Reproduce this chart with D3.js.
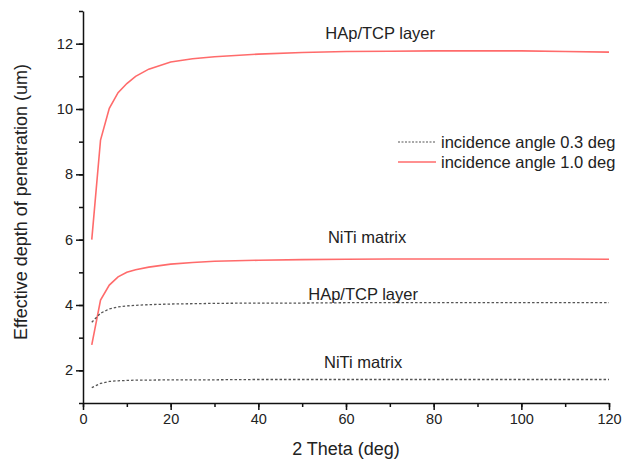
<!DOCTYPE html>
<html>
<head>
    <meta charset="utf-8">
    <title>Effective depth of penetration</title>
    <script src="https://d3js.org/d3.v7.min.js"></script>
    <style>
        body {
            margin: 0;
            background: #fff;
            font-family: Arial, "Liberation Sans", sans-serif;
            overflow: hidden;
        }
        .domain, .tick line {
            stroke: #111;
            stroke-width: 1.5px;
        }
        .tick text {
            font-size: 14.5px;
            fill: #222;
        }
        .label {
            font-size: 16.5px;
            fill: #222;
        }
        .title {
            font-size: 18px;
            fill: #222;
        }
    </style>
</head>
<body>
    <svg width="623" height="461"></svg>

    <script>
    // data
    const twoTheta = [2, 4, 6, 8, 10, 12, 15, 20, 25, 30, 40, 50, 60, 70, 80, 90, 100, 110, 120];
    const hapDeg10 = [6.0, 9.05, 10.02, 10.5, 10.78, 11.0, 11.22, 11.44, 11.54, 11.6, 11.68, 11.73, 11.76, 11.77, 11.78, 11.78, 11.78, 11.76, 11.74];
    const nitiDeg10 = [2.78, 4.15, 4.61, 4.86, 5.0, 5.08, 5.16, 5.25, 5.3, 5.34, 5.37, 5.39, 5.4, 5.41, 5.41, 5.41, 5.41, 5.41, 5.4];
    const hapDeg03 = [3.47, 3.75, 3.88, 3.94, 3.97, 3.99, 4.01, 4.03, 4.04, 4.05, 4.06, 4.06, 4.07, 4.07, 4.07, 4.07, 4.07, 4.07, 4.07];
    const nitiDeg03 = [1.47, 1.6, 1.66, 1.68, 1.69, 1.7, 1.7, 1.71, 1.71, 1.71, 1.72, 1.72, 1.72, 1.72, 1.72, 1.72, 1.72, 1.72, 1.72];

    const xTicks = [0, 20, 40, 60, 80, 100, 120];
    const yTicks = [2, 4, 6, 8, 10, 12];
    const legendLabels = ["incidence angle 0.3 deg", "incidence angle 1.0 deg"];

    const red = "#ff6b6b";
    const grey = "#555";

    let svg = d3.select("svg");

    let x = d3.scaleLinear().domain([0, 120]).range([83, 609]);
    let y = d3.scaleLinear().domain([1, 13]).range([403, 11]);

    // minor ticks first, then major ones on top
    svg.append("g")
        .attr("transform", "translate(0,403)")
        .call(d3.axisBottom(x).tickValues(d3.range(0, 121, 10)).tickSize(4).tickFormat(""))
        .call(g => g.select(".domain").remove());
    svg.append("g")
        .attr("transform", "translate(83,0)")
        .call(d3.axisLeft(y).tickValues(d3.range(1, 14, 1)).tickSize(4).tickFormat(""))
        .call(g => g.select(".domain").remove());

    svg.append("g")
        .attr("transform", "translate(0,403)")
        .call(d3.axisBottom(x).tickValues(xTicks).tickSize(7).tickSizeOuter(0).tickPadding(4));
    svg.append("g")
        .attr("transform", "translate(83,0)")
        .call(d3.axisLeft(y).tickValues(yTicks).tickSize(7).tickSizeOuter(0).tickPadding(3));

    // curves
    let line = d3.line()
        .x((d, i) => x(twoTheta[i]))
        .y(d => y(d));

    let series = [
        { values: hapDeg10, color: red, dash: null },
        { values: nitiDeg10, color: red, dash: null },
        { values: hapDeg03, color: grey, dash: "2.5,2" },
        { values: nitiDeg03, color: grey, dash: "2.5,2" }
    ];

    svg.selectAll(".curve")
        .data(series)
        .enter().append("path")
        .attr("class", "curve")
        .attr("d", d => line(d.values))
        .attr("fill", "none")
        .attr("stroke", d => d.color)
        .attr("stroke-width", d => d.dash ? 1.3 : 1.6)
        .attr("stroke-dasharray", d => d.dash);

    // curve labels
    let curveLabels = [
        { text: "HAp/TCP layer", x: 67.8, v: 12.13 },
        { text: "NiTi matrix", x: 64.8, v: 5.9 },
        { text: "HAp/TCP layer", x: 63.9, v: 4.14 },
        { text: "NiTi matrix", x: 63.9, v: 2.08 }
    ];
    svg.selectAll(".label.curve-label")
        .data(curveLabels)
        .enter().append("text")
        .attr("class", "label curve-label")
        .attr("x", d => x(d.x))
        .attr("y", d => y(d.v))
        .attr("text-anchor", "middle")
        .text(d => d.text);

    // legend
    let legend = svg.append("g").attr("transform", "translate(398,142)");
    legend.selectAll("line")
        .data(legendLabels)
        .enter().append("line")
        .attr("x1", 0).attr("x2", 38)
        .attr("y1", (d, i) => i * 20).attr("y2", (d, i) => i * 20)
        .attr("stroke", (d, i) => i === 0 ? grey : red)
        .attr("stroke-width", (d, i) => i === 0 ? 1.1 : 1.6)
        .attr("stroke-dasharray", (d, i) => i === 0 ? "2,1.5" : null);
    legend.selectAll("text")
        .data(legendLabels)
        .enter().append("text")
        .attr("class", "label")
        .attr("x", 43)
        .attr("y", (d, i) => i * 20 + 5.5)
        .text(d => d);

    // axis titles
    svg.append("text")
        .attr("class", "title")
        .attr("x", x(60))
        .attr("y", 455)
        .attr("text-anchor", "middle")
        .text("2 Theta (deg)");
    svg.append("text")
        .attr("class", "title")
        .attr("transform", "translate(27,202) rotate(-90)")
        .attr("text-anchor", "middle")
        .text("Effective depth of penetration (um)");
    </script>
</body>
</html>
